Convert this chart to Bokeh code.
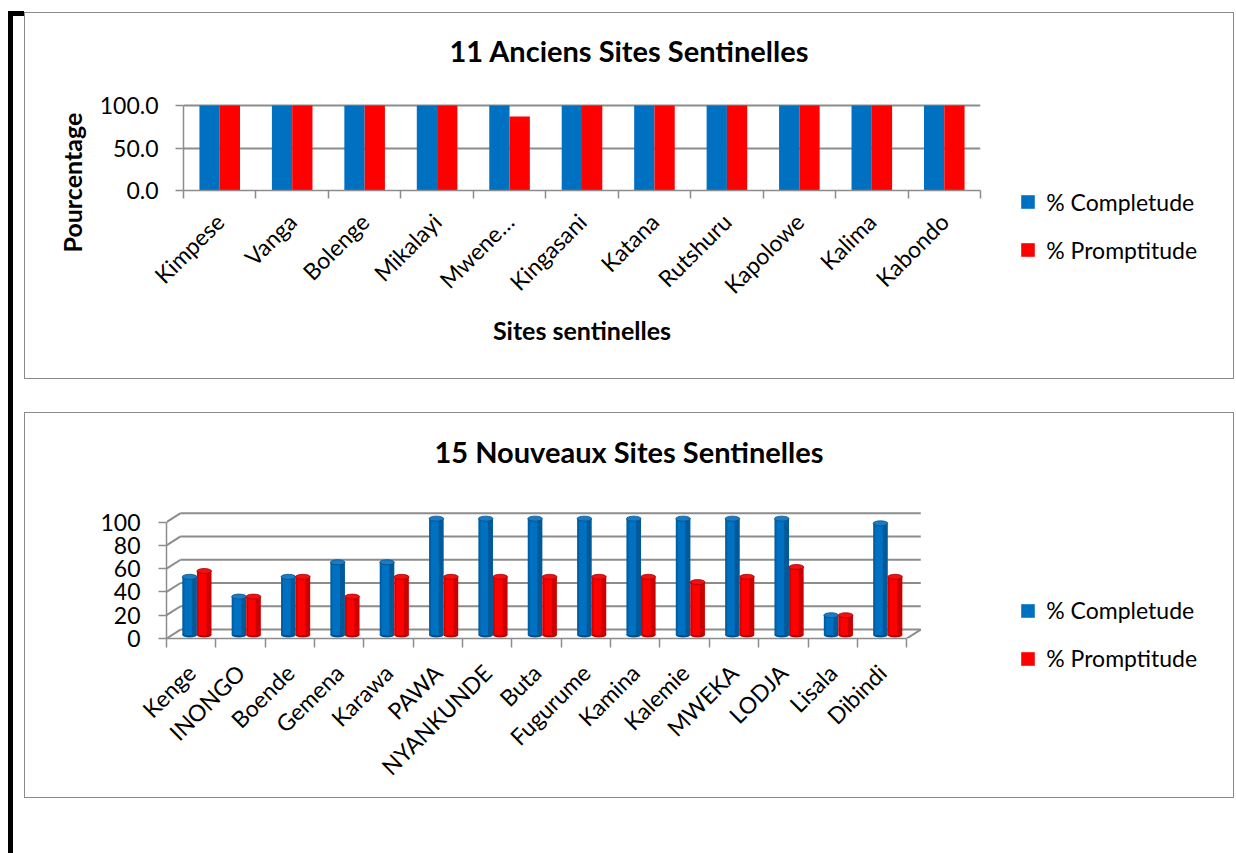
import math
import numpy as np
from bokeh.plotting import figure
from bokeh.models import (FixedTicker, Legend, LegendItem, Title, Div,
                          NumeralTickFormatter, ColumnDataSource)
from bokeh.layouts import row, column
from bokeh.embed import file_html
from bokeh.resources import INLINE

# ---------------- data ----------------
sites_old = ["Kimpese", "Vanga", "Bolenge", "Mikalayi", "Mwene…", "Kingasani",
             "Katana", "Rutshuru", "Kapolowe", "Kalima", "Kabondo"]
completude_old = [100, 100, 100, 100, 100, 100, 100, 100, 100, 100, 100]
promptitude_old = [100, 100, 100, 100, 87, 100, 100, 100, 100, 100, 100]
yticks_old = [0, 50, 100]

sites_new = ["Kenge", "INONGO", "Boende", "Gemena", "Karawa", "PAWA", "NYANKUNDE",
             "Buta", "Fugurume", "Kamina", "Kalemie", "MWEKA", "LODJA", "Lisala", "Dibindi"]
completude_new = [50, 33, 50, 62.5, 62.5, 100, 100, 100, 100, 100, 100, 100, 100, 17, 96]
promptitude_new = [55, 33, 50, 33, 50, 50, 50, 50, 50, 50, 45.5, 50, 58.5, 17, 50]
yticks_new = [0, 20, 40, 60, 80, 100]

series_names = ["% Completude", "% Promptitude"]
title_old = "11 Anciens Sites Sentinelles"
title_new = "15 Nouveaux  Sites Sentinelles"
xtitle_old = "Sites sentinelles"
ytitle_old = "Pourcentage"

# ---------------- styles ----------------
BLUE = "#0070C0"
RED = "#FF0000"
GRID = "#8C8C8C"
FONT = "Lato"
TXT = "23px"
BOX = {"border": "1px solid #8A8A8A"}
WO = 1210          # outer width incl. 1px border
W = WO - 2         # inner width


def no_align(p):
    if "frame_align" in p.properties():
        p.frame_align = False


def style_title(t, offset, standoff):
    t.align = "left"
    t.offset = offset
    t.vertical_align = "middle"
    t.standoff = standoff
    t.text_font = FONT
    t.text_font_style = "bold"
    t.text_font_size = "29px"
    t.text_color = "black"


def style_x(ax, n, names, standoff):
    centers = [i + 0.5 for i in range(n)]
    ax.ticker = FixedTicker(ticks=centers, minor_ticks=list(range(n + 1)))
    ax.major_label_overrides = {c: s for c, s in zip(centers, names)}
    ax.major_tick_out = 0
    ax.major_tick_in = 0
    ax.minor_tick_in = 0
    ax.minor_tick_out = 8
    ax.minor_tick_line_color = GRID
    ax.minor_tick_line_width = 1.5
    ax.axis_line_color = GRID
    ax.axis_line_width = 1.5
    ax.major_label_orientation = math.pi / 4
    ax.major_label_text_font = FONT
    ax.major_label_text_font_size = TXT
    ax.major_label_text_color = "black"
    ax.major_label_standoff = standoff
    ax.bounds = (0, n)


def style_y(ax, ticks, standoff):
    ax.ticker = FixedTicker(ticks=ticks, minor_ticks=[])
    ax.major_tick_out = 8
    ax.major_tick_in = 0
    ax.major_tick_line_color = GRID
    ax.major_tick_line_width = 1.5
    ax.axis_line_color = GRID
    ax.axis_line_width = 1.5
    ax.major_label_text_font = FONT
    ax.major_label_text_font_size = TXT
    ax.major_label_text_color = "black"
    ax.major_label_standoff = standoff
    ax.bounds = (0, 100)


def legend_fig(h, vx, vy):
    """Transparent overlay holding the series legend of one chart box."""
    q = figure(width=215, height=h, x_range=(0, 1), y_range=(0, 1),
               x_axis_type=None, y_axis_type=None, output_backend="svg",
               toolbar_location=None, min_border=0)
    no_align(q)
    q.grid.visible = False
    q.outline_line_color = None
    q.background_fill_alpha = 0
    q.border_fill_alpha = 0
    # legend proxies (no visible bars; only their swatches are shown)
    rs = [q.vbar(x=[np.nan], top=[np.nan], width=0.5, fill_color=c, line_color=None)
          for c in (BLUE, RED)]
    q.add_layout(Legend(items=[LegendItem(label=nm, renderers=[r]) for nm, r in zip(series_names, rs)],
                        location=(vx, vy), orientation="vertical", padding=0, margin=0,
                        border_line_color=None, background_fill_alpha=0,
                        label_text_font=FONT, label_text_font_size=TXT, label_text_color="black",
                        glyph_width=17, glyph_height=17, label_standoff=10, spacing=20))
    return q


# ---------------- chart 1 ----------------
n1 = len(sites_old)
F1L, F1T, F1W, F1H = 158, 72, 795, 103
H1 = 365
p1 = figure(width=WO, height=H1 + 2, x_range=(0, n1), y_range=(0, 121.18),
            title=title_old, output_backend="svg", toolbar_location=None,
            min_border_left=F1L, min_border_top=F1T,
            min_border_right=W - F1L - F1W, min_border_bottom=H1 - F1T - F1H)
no_align(p1)
p1.styles = BOX
p1.outline_line_color = None
style_title(p1.title, 266, 37)

x1 = np.arange(n1) + 0.5
src1 = ColumnDataSource(dict(xb=x1 - 0.14, xr=x1 + 0.14,
                             comp=completude_old, prom=promptitude_old))
p1.vbar(x="xb", width=0.28, top="comp", bottom=0, source=src1,
        fill_color=BLUE, line_color=None)
p1.vbar(x="xr", width=0.28, top="prom", bottom=0, source=src1,
        fill_color=RED, line_color=None)

style_x(p1.xaxis[0], n1, sites_old, 19)
p1.xaxis[0].axis_label = xtitle_old
p1.xaxis[0].axis_label_text_font = FONT
p1.xaxis[0].axis_label_text_font_style = "bold"
p1.xaxis[0].axis_label_text_font_size = "25px"
p1.xaxis[0].axis_label_text_color = "black"
p1.xaxis[0].axis_label_standoff = 3
style_y(p1.yaxis[0], yticks_old, 17)
p1.yaxis[0].formatter = NumeralTickFormatter(format="0.0")
p1.xgrid.visible = False
p1.ygrid.ticker = FixedTicker(ticks=yticks_old)
p1.ygrid.grid_line_color = GRID
p1.ygrid.grid_line_width = 2

p1.add_layout(Title(text=ytitle_old, align="left", offset=-62, standoff=20,
                    text_font=FONT, text_font_style="bold", text_font_size="25px",
                    text_color="black"), "left")

# ---------------- chart 2 (3-D cylinders) ----------------
n2 = len(sites_new)
F2L, F2T, F2W, F2H = 141, 74, 753, 149
H2 = 384
p2 = figure(width=WO, height=H2 + 2, x_range=(0, 15.3), y_range=(0, 128.05),
            title=title_new, output_backend="svg", toolbar_location=None,
            min_border_left=F2L, min_border_top=F2T,
            min_border_right=W - F2L - F2W, min_border_bottom=H2 - F2T - F2H)
no_align(p2)
p2.styles = BOX
p2.outline_line_color = None
p2.grid.visible = False
style_title(p2.title, 268, 39)

DX, DY = 0.285, 7.7          # depth offset of the back wall
yt = np.array(yticks_new, dtype=float)
p2.segment(x0=np.zeros_like(yt), y0=yt, x1=np.full_like(yt, DX), y1=yt + DY,
           line_color=GRID, line_width=2)
p2.segment(x0=np.full_like(yt, DX), y0=yt + DY, x1=np.full_like(yt, n2 + DX), y1=yt + DY,
           line_color=GRID, line_width=2)
p2.segment(x0=[n2], y0=[0], x1=[n2 + DX], y1=[DY], line_color=GRID, line_width=2)

x2 = np.arange(n2) + 0.5
OFF, HALF, BW = 0.116, 0.1475, 0.295
BASE, CAP = 3.0, 4.3
for vals, col, dark, cap, shift in [(completude_new, BLUE, "#00508C", "#1A7CC4", -HALF),
                                    (promptitude_new, RED, "#B00000", "#F01010", HALF)]:
    xs = x2 + OFF + shift
    top = np.array(vals, dtype=float) + BASE
    s = ColumnDataSource(dict(x=xs, top=top, xr=xs + BW * 0.33, xl=xs - BW * 0.43))
    p2.ellipse(x="x", y=BASE, width=BW, height=CAP, source=s, fill_color=dark, line_color=None)
    p2.vbar(x="x", width=BW, bottom=BASE, top="top", source=s,
            fill_color=col, line_color=None)
    p2.vbar(x="xr", width=BW * 0.34, bottom=BASE, top="top", source=s,
            fill_color="black", fill_alpha=0.2, line_color=None)
    p2.vbar(x="xl", width=BW * 0.14, bottom=BASE, top="top", source=s,
            fill_color="black", fill_alpha=0.15, line_color=None)
    p2.ellipse(x="x", y="top", width=BW, height=CAP, source=s,
               fill_color=cap, line_color=dark, line_width=0.8)

style_x(p2.xaxis[0], n2, sites_new, 21)
p2.xaxis[0].minor_tick_out = 9
style_y(p2.yaxis[0], yticks_new, 18)

# ---------------- page ----------------
bar = Div(text="<div style='position:absolute;left:0;top:0;width:5px;height:842px;background:#000'></div>"
               "<div style='position:absolute;left:0;top:0;width:16px;height:5px;background:#000'></div>",
          width=16, height=842, margin=(11, 0, 0, 8))
p1.margin = (0, 0, 0, 0)
p2.margin = (33, 0, 0, 0)
charts = column(p1, p2, margin=(12, 0, 0, 0))

leg1 = legend_fig(H1 + 2, 9.3, 115.5)
leg2 = legend_fig(H2 + 2, 9.3, 126)
leg2.margin = (33, 0, 0, 0)
legs = column(leg1, leg2, margin=(12, 0, 0, -224))

page = row(bar, charts, legs)

open("out.html", "w").write(file_html(page, INLINE))
